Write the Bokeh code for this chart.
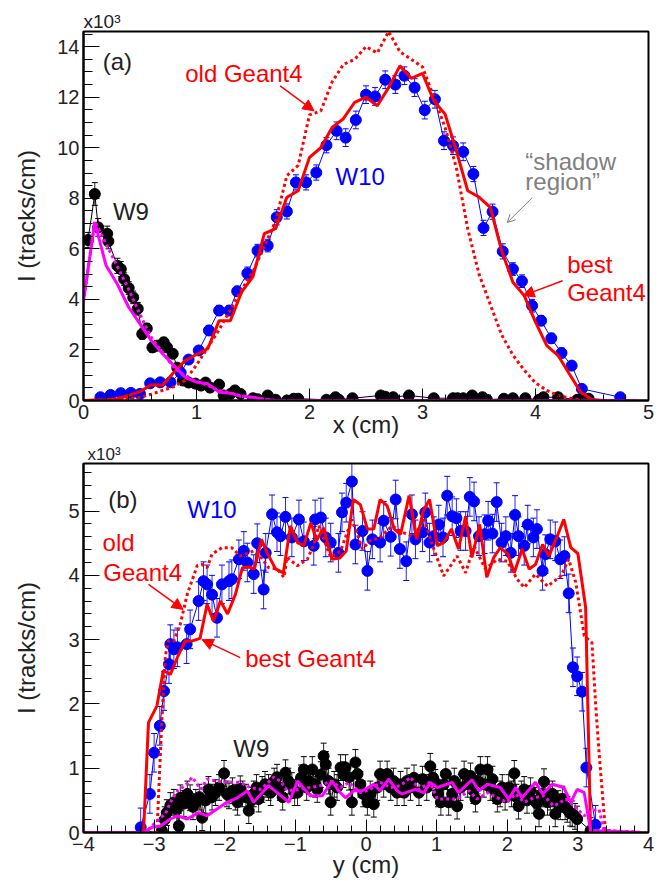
from bokeh.plotting import figure
from bokeh.models import (Range1d, SingleIntervalTicker, Label, Arrow, NormalHead,
                          OpenHead, Whisker, TeeHead, ColumnDataSource)
from bokeh.layouts import column
from bokeh.embed import file_html
from bokeh.resources import INLINE

FONT = "Liberation Sans"

# ---------------- panel (a): intensity vs x ----------------
a_w10_x = [0.15, 0.24, 0.33, 0.42, 0.50, 0.59, 0.68, 0.77, 0.86, 0.93, 1.02, 1.11, 1.20, 1.29, 1.36,
           1.45, 1.54, 1.63, 1.71, 1.80, 1.88, 1.97, 2.06, 2.15, 2.24, 2.32, 2.41, 2.50, 2.58, 2.67,
           2.76, 2.84, 2.93, 3.02, 3.11, 3.19, 3.27, 3.36, 3.45, 3.54, 3.62, 3.71, 3.80, 3.88, 3.97,
           4.05, 4.14, 4.23, 4.32, 4.41, 4.75]
a_w10_y = [0.13, 0.22, 0.29, 0.30, 0.26, 0.68, 0.72, 0.72, 1.10, 1.62, 1.98, 2.77, 3.56, 3.56, 4.32,
           5.03, 5.93, 6.13, 7.25, 7.48, 8.63, 8.63, 9.02, 10.10, 10.67, 10.40, 11.10, 12.10, 12.03, 12.69,
           12.50, 12.85, 12.38, 11.49, 11.92, 10.28, 10.08, 9.84, 8.96, 6.83, 7.47, 5.90, 5.20, 4.72, 3.75,
           3.16, 2.46, 1.88, 1.38, 0.46, 0.13]
a_w10_err = [0.05, 0.05, 0.05, 0.05, 0.05, 0.10, 0.10, 0.10, 0.12, 0.15, 0.15, 0.20, 0.20, 0.20, 0.20,
             0.25, 0.25, 0.25, 0.30, 0.30, 0.30, 0.30, 0.30, 0.30, 0.35, 0.35, 0.35, 0.35, 0.35, 0.35,
             0.35, 0.35, 0.35, 0.35, 0.35, 0.35, 0.35, 0.35, 0.30, 0.30, 0.30, 0.30, 0.25, 0.25, 0.25,
             0.20, 0.20, 0.20, 0.15, 0.10, 0.05]

a_w9_x = [0.04, 0.10, 0.13, 0.21, 0.22, 0.30, 0.33, 0.36, 0.40, 0.44, 0.48, 0.52, 0.56, 0.61, 0.65,
          0.71, 0.74, 0.79, 0.83, 0.88, 0.93, 0.99, 1.04, 1.08, 1.12, 1.20, 1.24, 1.30, 1.34, 1.39,
          1.50, 1.54, 1.63, 1.70, 1.80, 1.86, 1.90, 2.15, 2.23, 2.26, 2.38, 2.63, 2.67, 2.74, 2.88,
          3.10, 3.27, 3.31, 3.36, 3.44, 3.53, 3.57, 3.72, 3.80, 3.91, 4.03, 4.07, 4.20, 4.37, 4.41, 4.47]
a_w9_y = [6.35, 8.17, 6.85, 6.60, 6.30, 5.33, 5.20, 4.80, 4.45, 4.08, 3.63, 2.63, 2.85, 2.10, 2.17,
          2.30, 2.10, 1.85, 1.30, 0.79, 0.71, 0.67, 0.59, 0.71, 0.51, 0.63, 0.20, 0.26, 0.40, 0.26,
          0.09, 0.05, 0.20, 0.03, 0.00, 0.07, 0.07, 0.03, 0.13, 0.03, 0.09, 0.20, 0.15, 0.13, 0.20,
          0.09, 0.09, 0.09, 0.09, 0.20, 0.13, 0.03, 0.07, 0.09, 0.09, 0.03, 0.13, 0.13, 0.03, 0.09, 0.07]
a_w9_err = [0.30, 0.45, 0.35, 0.30, 0.30, 0.30, 0.30, 0.25, 0.25, 0.25, 0.25, 0.20, 0.20, 0.20, 0.20,
            0.20, 0.20, 0.15, 0.15, 0.10, 0.10, 0.10, 0.10, 0.10, 0.10, 0.10, 0.05, 0.05, 0.05, 0.05,
            0.05, 0.05, 0.05, 0.05, 0.05, 0.05, 0.05, 0.05, 0.05, 0.05, 0.05, 0.05, 0.05, 0.05, 0.05,
            0.05, 0.05, 0.05, 0.05, 0.05, 0.05, 0.05, 0.05, 0.05, 0.05, 0.05, 0.05, 0.05, 0.05, 0.05, 0.05]

a_sim_x = [0.0, 0.1, 0.2, 0.3, 0.4, 0.5, 0.6, 0.7, 0.8, 0.9, 1.0, 1.1, 1.2, 1.3, 1.4, 1.5, 1.6, 1.7,
           1.8, 1.9, 2.0, 2.1, 2.2, 2.3, 2.4, 2.5, 2.6, 2.7, 2.8, 2.9, 3.0, 3.1, 3.2, 3.3, 3.4, 3.5,
           3.6, 3.7, 3.8, 3.9, 4.0, 4.1, 4.2, 4.3, 4.4, 4.5, 4.6]
a_best_w10 = [0.00, 0.02, 0.03, 0.07, 0.20, 0.35, 0.62, 0.60, 1.12, 1.58, 1.82, 2.05, 3.16, 3.16, 4.30,
              4.90, 6.60, 6.80, 8.04, 8.30, 9.62, 10.00, 10.80, 11.15, 11.80, 12.00, 11.66, 12.38, 13.24,
              12.75, 12.94, 11.86, 11.33, 9.88, 8.30, 8.05, 7.64, 5.93, 4.68, 4.15, 3.10, 2.17, 1.78,
              1.05, 0.33, 0.04, 0.00]
a_old_w10 = [0.00, 0.00, 0.00, 0.03, 0.07, 0.13, 0.25, 0.40, 0.55, 0.80, 1.40, 2.10, 2.80, 3.60, 4.40,
             5.10, 6.10, 7.10, 8.90, 9.30, 11.30, 11.46, 12.60, 13.30, 13.50, 14.00, 13.75, 14.60, 13.80,
             13.50, 13.20, 12.00, 10.80, 9.20, 6.80, 5.00, 3.80, 2.60, 1.80, 1.20, 0.70, 0.40, 0.20,
             0.10, 0.02, 0.00, 0.00]
a_w9sim_x = [0.0, 0.1, 0.2, 0.3, 0.4, 0.5, 0.6, 0.7, 0.8, 0.9, 1.0, 1.1, 1.2, 1.3, 1.4, 1.5, 1.6, 1.7, 4.9]
a_best_w9 = [3.95, 7.05, 5.34, 4.60, 3.69, 3.03, 2.37, 1.85, 1.38, 0.92, 0.73, 0.66, 0.33, 0.29, 0.16,
             0.13, 0.04, 0.00, 0.00]
a_old_w9 = [3.90, 7.10, 6.20, 5.30, 4.40, 3.40, 2.50, 1.90, 1.30, 0.95, 0.75, 0.60, 0.40, 0.30, 0.18,
            0.12, 0.05, 0.00, 0.00]

# ---------------- panel (b): intensity vs y ----------------
b_w10_x = [-3.19, -3.06, -3.00, -2.92, -2.86, -2.79, -2.77, -2.72, -2.67, -2.54,
           -2.49, -2.37, -2.30, -2.25, -2.18, -2.11, -2.04, -1.94, -1.90, -1.80,
           -1.73, -1.68, -1.59, -1.54, -1.45, -1.42, -1.33, -1.26, -1.21, -1.14,
           -1.05, -0.95, -0.88, -0.74, -0.72, -0.64, -0.57, -0.50, -0.39, -0.34,
           -0.28, -0.20, -0.15, -0.05, 0.02, 0.09, 0.20, 0.25, 0.35, 0.42,
           0.48, 0.57, 0.65, 0.70, 0.80, 0.84, 0.90, 0.96, 1.03, 1.09,
           1.15, 1.22, 1.28, 1.34, 1.41, 1.47, 1.53, 1.60, 1.68, 1.73,
           1.79, 1.85, 1.92, 1.98, 2.05, 2.11, 2.16, 2.24, 2.29, 2.37,
           2.42, 2.50, 2.54, 2.61, 2.68, 2.75, 2.81, 2.87, 2.93, 2.99,
           3.06, 3.12, 3.25]
b_w10_y = [0.08, 0.60, 1.24, 1.66, 2.20, 2.62, 2.93, 2.85, 2.88, 2.93,
           3.16, 3.60, 3.91, 3.86, 3.70, 3.34, 3.86, 3.91, 3.94, 4.25,
           4.38, 4.20, 4.02, 4.50, 3.78, 4.35, 4.95, 4.67, 4.61, 4.91,
           4.59, 4.87, 4.53, 4.46, 4.87, 4.90, 4.59, 4.51, 4.35, 4.98,
           5.13, 5.46, 4.48, 4.69, 4.07, 4.56, 4.51, 4.85, 4.60, 5.18,
           4.41, 4.22, 4.95, 4.56, 4.67, 4.98, 4.51, 4.61, 4.79, 4.59,
           5.24, 4.92, 4.89, 4.69, 4.69, 5.22, 5.15, 4.61, 4.64, 4.85,
           4.65, 5.14, 4.51, 4.61, 4.35, 4.94, 4.61, 4.46, 4.79, 4.59,
           4.72, 4.07, 4.33, 4.56, 4.53, 4.25, 4.30, 3.72, 2.57, 2.43,
           2.19, 1.01, 0.12]
b_w10_err = 0.3

b_w9_x = [-2.89, -2.85, -2.82, -2.77, -2.72, -2.68, -2.65, -2.63, -2.58, -2.53, -2.49, -2.45, -2.41,
          -2.36, -2.32, -2.27, -2.23, -2.18, -2.13, -2.08, -2.01, -1.97, -1.94, -1.89, -1.85, -1.82,
          -1.78, -1.75, -1.70, -1.66, -1.62, -1.59, -1.55, -1.52, -1.47, -1.43, -1.38, -1.35, -1.30,
          -1.26, -1.22, -1.18, -1.14, -1.10, -1.05, -1.01, -0.97, -0.92, -0.88, -0.84, -0.81, -0.76,
          -0.72, -0.69, -0.64, -0.60, -0.57, -0.53, -0.50, -0.45, -0.41, -0.36, -0.32, -0.29, -0.24,
          -0.20, -0.15, -0.12, -0.08, -0.04, 0.02, 0.06, 0.11, 0.16, 0.20, 0.25, 0.30, 0.35, 0.39,
          0.44, 0.49, 0.54, 0.58, 0.63, 0.68, 0.75, 0.80, 0.86, 0.91, 0.95, 0.98, 1.02, 1.06, 1.10,
          1.13, 1.17, 1.22, 1.25, 1.29, 1.34, 1.39, 1.44, 1.48, 1.52, 1.55, 1.58, 1.62, 1.67, 1.72,
          1.76, 1.79, 1.83, 1.86, 1.90, 1.93, 1.97, 2.02, 2.06, 2.10, 2.13, 2.16, 2.20, 2.24, 2.28,
          2.33, 2.38, 2.42, 2.45, 2.49, 2.52, 2.57, 2.61, 2.64, 2.68, 2.72, 2.75, 2.78, 2.82, 2.85,
          2.89, 2.92, 2.96, 2.99, 3.18]
b_w9_y = [0.03, 0.20, 0.31, 0.42, 0.47, 0.36, 0.10, 0.54, 0.45, 0.60, 0.54, 0.40, 0.47,
          0.55, 0.23, 0.50, 0.67, 0.55, 0.62, 0.70, 0.92, 0.60, 0.57, 0.65, 0.55, 0.47,
          0.68, 0.60, 0.55, 0.34, 0.50, 0.60, 0.70, 0.52, 0.67, 0.75, 0.70, 0.62, 0.80,
          0.86, 0.70, 0.55, 0.93, 0.80, 0.73, 0.62, 0.62, 0.85, 0.98, 0.70, 0.80, 0.98,
          0.75, 0.67, 0.90, 1.19, 1.06, 0.80, 0.47, 0.75, 0.70, 1.01, 0.90, 1.01, 0.86,
          0.47, 1.09, 0.91, 0.75, 0.60, 0.47, 0.60, 0.44, 0.70, 0.91, 0.75, 0.91, 0.70, 0.80,
          0.62, 0.75, 0.62, 0.80, 0.70, 0.85, 0.62, 0.83, 0.70, 1.03, 0.85, 0.78, 0.60, 0.47, 0.75,
          0.91, 0.47, 0.60, 0.80, 0.41, 0.70, 0.91, 0.75, 0.88, 0.65, 0.52, 0.80, 0.98, 0.75, 0.98,
          0.70, 0.83, 0.65, 0.52, 0.60, 0.70, 0.55, 0.70, 0.60, 0.92, 0.55, 0.41, 0.60, 0.67, 0.50,
          0.65, 0.50, 0.45, 0.29, 0.60, 0.79, 0.47, 0.55, 0.60, 0.29, 0.45, 0.40, 0.52, 0.40, 0.36,
          0.30, 0.29, 0.25, 0.21, 0.03]
b_w9_err = 0.2

b_best_w10_x = [-4.00, -3.15, -3.08, -2.96, -2.87, -2.77, -2.66, -2.56, -2.46, -2.35, -2.25, -2.16,
                -2.06, -1.96, -1.85, -1.75, -1.66, -1.58, -1.48, -1.40, -1.28, -1.17, -1.07, -0.97,
                -0.88, -0.78, -0.70, -0.60, -0.48, -0.37, -0.28, -0.18, -0.08, 0.02, 0.11, 0.20, 0.30,
                0.40, 0.49, 0.61, 0.72, 0.81, 0.90, 1.01, 1.10, 1.21, 1.31, 1.41, 1.50, 1.61, 1.71,
                1.81, 1.90, 2.01, 2.10, 2.21, 2.31, 2.40, 2.50, 2.59, 2.70, 2.80, 2.90, 3.00, 3.11,
                3.18, 3.90]
b_best_w10_y = [0.00, 0.00, 1.71, 1.97, 2.52, 2.46, 2.75, 2.98, 2.98, 3.02, 3.55, 3.29,
                3.60, 3.40, 3.70, 4.12, 4.13, 4.10, 4.56, 4.35, 4.10, 4.04, 4.77, 4.51,
                4.46, 4.82, 4.54, 4.74, 4.25, 4.27, 4.38, 5.18, 5.10, 4.72, 4.72, 5.18, 5.08,
                4.72, 4.64, 5.24, 4.56, 5.00, 5.18, 4.46, 4.51, 4.72, 4.41, 4.92, 4.28, 4.79, 3.97,
                4.28, 4.43, 4.33, 4.04, 4.41, 4.10, 4.17, 4.48, 4.30, 4.59, 4.87, 4.43, 4.34, 3.50,
                0.00, 0.00]
b_old_w10_x = [-4.00, -2.96, -2.89, -2.84, -2.80, -2.72, -2.63, -2.53, -2.39, -2.32, -2.25, -2.18,
               -2.04, -1.90, -1.78, -1.59, -1.50, -1.38, -1.26, -1.16, -1.12, -0.97, -0.83, -0.74,
               -0.67, -0.50, -0.36, -0.20, -0.05, 0.06, 0.20, 0.37, 0.51, 0.68, 0.82, 0.96, 1.10,
               1.29, 1.41, 1.53, 1.69, 1.86, 2.00, 2.14, 2.24, 2.40, 2.57, 2.76, 2.87, 2.97, 3.09,
               3.20, 3.25, 3.30, 3.39, 3.90]
b_old_w10_y = [0.00, 0.00, 1.76, 2.75, 2.98, 2.98, 3.24, 3.71, 4.15, 4.17, 4.12, 4.33,
               4.43, 4.43, 4.30, 4.38, 4.30, 4.12, 4.10, 3.97, 4.28, 4.15, 4.25, 4.48,
               4.77, 4.28, 4.38, 4.87, 4.41, 4.54, 4.59, 4.77, 4.67, 4.61, 4.87, 4.41, 3.99,
               4.30, 4.04, 4.46, 4.10, 4.25, 4.22, 3.94, 3.81, 4.02, 3.83, 3.99, 4.25, 3.89, 3.06,
               2.95, 2.02, 1.24, 0.03, 0.00]
b_best_w9_x = [-4.00, -3.15, -3.03, -2.91, -2.77, -2.67, -2.53, -2.37, -2.25, -1.97, -1.82, -1.68,
               -1.59, -1.38, -1.09, -0.97, -0.79, -0.62, -0.48, -0.39, -0.29, -0.17, -0.05, 0.11,
               0.20, 0.32, 0.44, 0.51, 0.70, 0.82, 0.91, 1.01, 1.22, 1.31, 1.50, 1.60, 1.72, 1.90,
               2.02, 2.12, 2.21, 2.40, 2.50, 2.64, 2.80, 2.90, 2.99, 3.09, 3.18, 3.90]
b_best_w9_y = [0.00, 0.00, 0.08, 0.10, 0.21, 0.26, 0.21, 0.31, 0.26, 0.47, 0.54, 0.65,
               0.47, 0.73, 0.47, 0.80, 0.57, 0.57, 0.80, 0.65, 0.54, 0.65, 0.65, 0.75,
               0.65, 0.83, 0.65, 0.60, 0.67, 0.62, 0.78, 0.70, 0.78, 0.62, 0.82, 0.65, 0.75, 0.70,
               0.52, 0.70, 0.54, 0.78, 0.60, 0.75, 0.70, 0.47, 0.67, 0.62, 0.03, 0.00]
b_old_w9_x = [-4.00, -3.12, -2.96, -2.84, -2.77, -2.67, -2.56, -2.46, -2.34, -2.25, -2.11, -1.97,
              -1.78, -1.64, -1.49, -1.31, -1.21, -1.12, -0.95, -0.79, -0.64, -0.50, -0.36, -0.24,
              -0.08, 0.06, 0.20, 0.35, 0.49, 0.63, 0.75, 0.91, 1.01, 1.13, 1.29, 1.46, 1.57, 1.72,
              1.86, 2.00, 2.12, 2.24, 2.38, 2.52, 2.66, 2.83, 2.97, 3.09, 3.20, 3.30, 3.37, 3.90]
b_old_w9_y = [0.00, 0.00, 0.18, 0.29, 0.47, 0.65, 0.73, 0.86, 0.67, 0.83, 0.80, 0.78,
              0.78, 0.70, 0.67, 0.86, 0.80, 0.65, 0.67, 0.70, 0.73, 0.80, 0.70, 0.78,
              0.62, 0.67, 0.78, 0.70, 0.73, 0.86, 0.67, 0.78, 0.52, 0.52, 0.52, 0.65, 0.52, 0.62,
              0.54, 0.47, 0.60, 0.47, 0.54, 0.57, 0.41, 0.52, 0.39, 0.26, 0.34, 0.36, 0.03, 0.00]

RED, BLUE, MAG, GREY = "#ff0000", "#0000ff", "#ff00ff", "#808080"
TXT = "#222222"


def make_fig(xr, yr, top, bottom, title_offset, title_size):
    p = figure(frame_width=565, frame_height=369, x_range=Range1d(*xr), y_range=Range1d(*yr),
               output_backend="svg", toolbar_location=None, title="x10\u00b3", min_border_left=83,
               min_border_right=10, min_border_top=top, min_border_bottom=bottom,
               background_fill_color="white", border_fill_color="white")
    p.title.align = "left"
    p.title.offset = title_offset
    p.title.standoff = 0
    p.title.text_font = FONT
    p.title.text_font_size = title_size
    p.title.text_font_style = "normal"
    p.title.text_color = TXT
    p.grid.visible = False
    p.outline_line_color = "black"
    p.outline_line_width = 2
    for ax in (p.xaxis[0], p.yaxis[0]):
        ax.axis_line_width = 2
        ax.axis_line_color = "black"
        ax.major_tick_out = 0
        ax.minor_tick_out = 0
        ax.major_tick_line_color = "black"
        ax.minor_tick_line_color = "black"
        ax.major_label_text_font = FONT
        ax.major_label_text_font_size = "20px"
        ax.major_label_text_color = TXT
        ax.major_label_standoff = 4
        ax.axis_label_text_font = FONT
        ax.axis_label_text_font_size = "24px"
        ax.axis_label_text_font_style = "normal"
        ax.axis_label_text_color = TXT
    return p


def errbars(p, xs, ys, errs, color, head):
    if not isinstance(errs, list):
        errs = [errs] * len(xs)
    src = ColumnDataSource(dict(x=xs, lo=[y - e for y, e in zip(ys, errs)],
                                hi=[y + e for y, e in zip(ys, errs)]))
    p.add_layout(Whisker(source=src, base="x", lower="lo", upper="hi", line_color=color,
                         line_width=1, line_alpha=0.85,
                         lower_head=TeeHead(size=head, line_color=color, line_width=1),
                         upper_head=TeeHead(size=head, line_color=color, line_width=1)))


def label(p, x, y, text, color, size="24px", align="left"):
    p.add_layout(Label(x=x, y=y, text=text, text_color=color, text_font=FONT,
                       text_font_size=size, text_baseline="middle", text_align=align))


def arrow(p, x0, y0, x1, y1, color, width=1.5, open_head=False):
    head = (OpenHead(size=8, line_color=color, line_width=1) if open_head
            else NormalHead(size=11, fill_color=color, line_color=color))
    p.add_layout(Arrow(end=head, x_start=x0, y_start=y0, x_end=x1, y_end=y1,
                       line_color=color, line_width=width))


# ---------------- figure (a) ----------------
pa = make_fig((0, 5), (0, 14.6), 31, 42, 0, "19px")
pa.xaxis.ticker = SingleIntervalTicker(interval=1, num_minor_ticks=5)
pa.yaxis.ticker = SingleIntervalTicker(interval=2, num_minor_ticks=4)
pa.xaxis.major_tick_in = 12
pa.xaxis.minor_tick_in = 6
pa.yaxis.major_tick_in = 16
pa.yaxis.minor_tick_in = 9
pa.xaxis.axis_label = "x (cm)"
pa.xaxis.axis_label_standoff = -11
pa.yaxis.axis_label = "I (tracks/cm)"
pa.yaxis.axis_label_standoff = 14

errbars(pa, a_w9_x, a_w9_y, a_w9_err, "black", 6)
pa.line(a_w9_x, a_w9_y, line_color="black", line_width=1)
pa.scatter(a_w9_x, a_w9_y, size=11, color="black")
errbars(pa, a_w10_x, a_w10_y, a_w10_err, BLUE, 6)
pa.line(a_w10_x, a_w10_y, line_color=BLUE, line_width=1)
pa.scatter(a_w10_x, a_w10_y, size=11, color=BLUE)
pa.line(a_sim_x, a_old_w10, line_color=RED, line_width=3, line_dash="3 3")
pa.line(a_sim_x, a_best_w10, line_color=RED, line_width=3)
pa.line(a_w9sim_x, a_old_w9, line_color=MAG, line_width=3, line_dash="3 3")
pa.line(a_w9sim_x, a_best_w9, line_color=MAG, line_width=3)

label(pa, 0.17, 13.4, "(a)", TXT)
label(pa, 0.90, 12.92, "old Geant4", RED)
arrow(pa, 1.74, 12.45, 2.04, 11.46, RED)
label(pa, 2.23, 8.87, "W10", BLUE)
label(pa, 3.91, 9.45, "\u201cshadow", GREY)
label(pa, 3.91, 8.66, "region\u201d", GREY)
arrow(pa, 3.97, 8.02, 3.75, 7.04, GREY, width=1, open_head=True)
label(pa, 4.28, 5.38, "best", RED)
label(pa, 4.28, 4.27, "Geant4", RED)
arrow(pa, 4.24, 4.74, 3.89, 4.15, RED)
label(pa, 0.26, 7.47, "W9", TXT)

# ---------------- figure (b) ----------------
pb = make_fig((-4, 4), (0, 5.74), 19, 50, 4, "17px")
pb.xaxis.ticker = SingleIntervalTicker(interval=1, num_minor_ticks=5)
pb.yaxis.ticker = SingleIntervalTicker(interval=1, num_minor_ticks=5)
pb.xaxis.major_tick_in = 13
pb.xaxis.minor_tick_in = 7
pb.yaxis.major_tick_in = 16
pb.yaxis.minor_tick_in = 8
pb.xaxis.axis_label = "y (cm)"
pb.xaxis.axis_label_standoff = -3
pb.yaxis.axis_label = "I (tracks/cm)"
pb.yaxis.axis_label_standoff = 25

errbars(pb, b_w9_x, b_w9_y, b_w9_err, "black", 6)
pb.line(b_w9_x, b_w9_y, line_color="black", line_width=1)
pb.scatter(b_w9_x, b_w9_y, size=11, color="black")
errbars(pb, b_w10_x, b_w10_y, b_w10_err, BLUE, 6)
pb.line(b_w10_x, b_w10_y, line_color=BLUE, line_width=1)
pb.scatter(b_w10_x, b_w10_y, size=11, color=BLUE)
pb.line(b_old_w10_x, b_old_w10_y, line_color=RED, line_width=3, line_dash="3 3")
pb.line(b_best_w10_x, b_best_w10_y, line_color=RED, line_width=3)
pb.line(b_old_w9_x, b_old_w9_y, line_color=MAG, line_width=3, line_dash="3 3")
pb.line(b_best_w9_x, b_best_w9_y, line_color=MAG, line_width=3)

label(pb, -3.65, 5.18, "(b)", TXT)
label(pb, -2.53, 5.02, "W10", BLUE)
label(pb, -3.73, 4.51, "old", RED)
label(pb, -3.72, 4.04, "Geant4", RED)
arrow(pb, -3.08, 3.86, -2.59, 3.47, RED)
label(pb, -1.71, 2.71, "best Geant4", RED)
arrow(pb, -1.78, 2.72, -2.32, 3.00, RED)
label(pb, -1.88, 1.31, "W9", TXT)

layout = column(pa, pb, spacing=0)
open("out.html", "w").write(file_html(layout, INLINE))
